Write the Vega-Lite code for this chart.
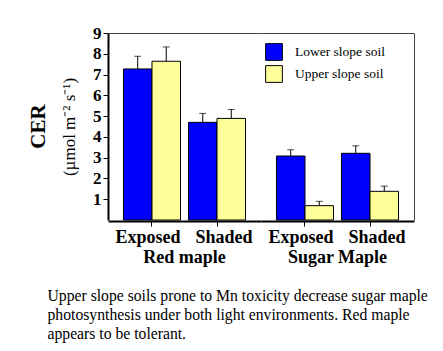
{
  "$schema": "https://vega.github.io/schema/vega-lite/v6.json",
  "padding": {"left": 27, "top": 24, "right": 5, "bottom": 5},
  "background": "white",
  "data": {
    "values": [
      {"measure": "CER", "species": "Red maple", "condition": "Exposed", "soil": "Lower slope soil", "cer": 7.27, "hi": 7.88},
      {"measure": "CER", "species": "Red maple", "condition": "Exposed", "soil": "Upper slope soil", "cer": 7.64, "hi": 8.33},
      {"measure": "CER", "species": "Red maple", "condition": "Shaded", "soil": "Lower slope soil", "cer": 4.70, "hi": 5.13},
      {"measure": "CER", "species": "Red maple", "condition": "Shaded", "soil": "Upper slope soil", "cer": 4.89, "hi": 5.32},
      {"measure": "CER", "species": "Sugar Maple", "condition": "Exposed", "soil": "Lower slope soil", "cer": 3.08, "hi": 3.38},
      {"measure": "CER", "species": "Sugar Maple", "condition": "Exposed", "soil": "Upper slope soil", "cer": 0.69, "hi": 0.90},
      {"measure": "CER", "species": "Sugar Maple", "condition": "Shaded", "soil": "Lower slope soil", "cer": 3.21, "hi": 3.57},
      {"measure": "CER", "species": "Sugar Maple", "condition": "Shaded", "soil": "Upper slope soil", "cer": 1.38, "hi": 1.63}
    ]
  },
  "facet": {
    "row": {"field": "measure", "type": "nominal", "header": {"title": null, "labelAngle": -90, "labelOrient": "left", "labelFont": "Liberation Serif", "labelFontSize": 21, "labelFontWeight": "bold", "labelColor": "black", "labelPadding": 1}},
    "column": {"field": "species", "type": "nominal", "sort": ["Red maple", "Sugar Maple"], "header": {"title": null, "labelOrient": "bottom", "labelFont": "Liberation Serif", "labelFontSize": 18, "labelFontWeight": "bold", "labelColor": "black", "labelPadding": 3,
      "labelExpr": "(datum.label == 'Red maple' ? '\u2002\u2002\u2002' : '\u2002\u2002') + datum.label"}}
  },
  "spacing": {"row": 0, "column": 0},
  "spec": {
    "width": 153,
    "height": 187,
    "layer": [
      {
        "mark": {"type": "bar", "stroke": "black", "strokeWidth": 1},
        "encoding": {
          "x": {"field": "condition", "type": "nominal", "sort": ["Exposed", "Shaded"], "scale": {"paddingInner": 0.123, "paddingOuter": 0.238},
            "axis": {"orient": "bottom", "title": null, "labelAngle": 0, "labelFont": "Liberation Serif", "labelFontSize": 18, "labelFontWeight": "bold", "labelColor": "black", "domainColor": "black", "domainWidth": 2, "tickColor": "black", "tickSize": 5, "labelPadding": 2,
              "labelOffset": {"condition": {"test": "datum.value == 'Exposed'", "value": -4}, "value": 7}}},
          "xOffset": {"field": "soil", "type": "nominal", "sort": ["Lower slope soil", "Upper slope soil"]},
          "y": {"field": "cer", "type": "quantitative", "scale": {"domain": [0, 9], "nice": false},
            "axis": {"orient": "left", "values": [1, 2, 3, 4, 5, 6, 7, 8, 9], "grid": false, "labelFont": "Liberation Serif", "labelFontSize": 17, "labelFontWeight": "bold", "labelColor": "black", "domainColor": "black", "domainWidth": 2, "tickColor": "black", "tickSize": 5, "labelPadding": 2, "title": "(µmol m⁻² s⁻¹)", "titleFont": "Liberation Serif", "titleFontSize": 17, "titleFontWeight": "normal", "titleColor": "black", "titlePadding": 14}},
          "fill": {"field": "soil", "type": "nominal", "sort": ["Lower slope soil", "Upper slope soil"], "scale": {"range": ["#0000ff", "#ffff99"]},
            "legend": {"title": null, "orient": "none", "legendX": 157, "legendY": 10, "symbolType": "square", "symbolSize": 280, "symbolStrokeColor": "black", "symbolStrokeWidth": 1, "symbolOpacity": 1, "labelFont": "Liberation Serif", "labelFontSize": 13.5, "labelColor": "black", "labelOffset": 12, "rowPadding": 0}}
        }
      },
      {
        "mark": {"type": "rule", "color": "black", "strokeWidth": 1},
        "encoding": {
          "x": {"field": "condition", "type": "nominal", "sort": ["Exposed", "Shaded"],
            "axis": {"orient": "top", "labels": false, "ticks": false, "title": null, "domainColor": "#444", "domainWidth": 1}},
          "xOffset": {"field": "soil", "type": "nominal", "sort": ["Lower slope soil", "Upper slope soil"]},
          "y": {"field": "cer", "type": "quantitative",
            "axis": {"orient": "right", "labels": false, "ticks": false, "title": null, "grid": false, "domainColor": "#444", "domainWidth": 1}},
          "y2": {"field": "hi"}
        }
      },
      {
        "mark": {"type": "tick", "color": "black", "thickness": 1, "size": 7, "orient": "horizontal"},
        "encoding": {
          "x": {"field": "condition", "type": "nominal", "sort": ["Exposed", "Shaded"], "axis": null},
          "xOffset": {"field": "soil", "type": "nominal", "sort": ["Lower slope soil", "Upper slope soil"]},
          "y": {"field": "hi", "type": "quantitative", "axis": null}
        }
      }
    ],
    "resolve": {"axis": {"x": "independent", "y": "independent"}}
  },
  "title": {
    "text": ["Upper slope soils prone to Mn toxicity decrease sugar maple", "photosynthesis under both light environments.  Red maple", "appears to be tolerant."],
    "orient": "bottom",
    "anchor": "start",
    "frame": "bounds",
    "font": "Liberation Serif",
    "fontSize": 15.7,
    "fontWeight": "normal",
    "color": "black",
    "lineHeight": 19,
    "offset": 22,
    "dx": 20
  },
  "config": {
    "font": "Liberation Serif",
    "view": {"stroke": null},
    "axis": {"labelFont": "Liberation Serif", "titleFont": "Liberation Serif"},
    "title": {"font": "Liberation Serif"}
  }
}
